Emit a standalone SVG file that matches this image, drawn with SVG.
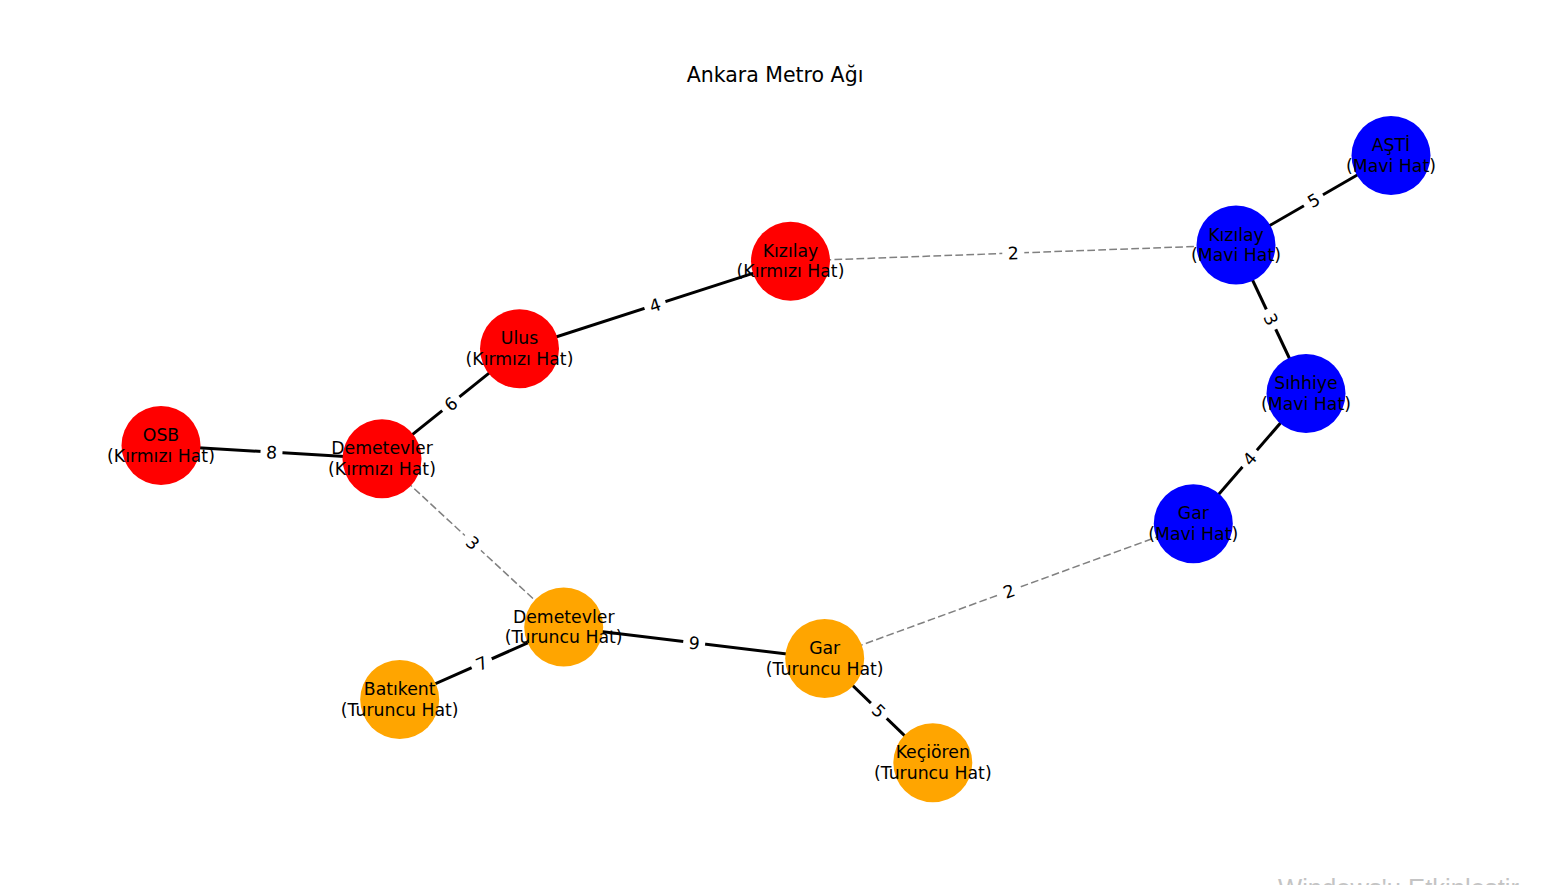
<svg xmlns="http://www.w3.org/2000/svg" width="1551" height="885" viewBox="0 0 1551 885">
<style>
.solid{stroke:#000;stroke-width:3;fill:none;stroke-linecap:butt}
.dash{stroke:#808080;stroke-width:1.5;fill:none;stroke-dasharray:7.7 3.3}
.red{fill:#ff0000}.blue{fill:#0000ff}.orange{fill:#ffa500}
.nl{font-family:"DejaVu Sans",sans-serif;font-size:17.3px;fill:#000;text-anchor:middle}
.el{font-family:"DejaVu Sans",sans-serif;font-size:17.3px;fill:#000;text-anchor:middle}
.lb{fill:#fff}
</style>
<rect width="1551" height="885" fill="#fff"/>
<text x="775" y="81.7" font-family="DejaVu Sans, sans-serif" font-size="20.5" text-anchor="middle" fill="#000">Ankara Metro Ağı</text>
<g id="edges">
<line class="solid" x1="161" y1="445.5" x2="382" y2="458.8"/>
<line class="solid" x1="382" y1="458.8" x2="519.5" y2="348.8"/>
<line class="solid" x1="519.5" y1="348.8" x2="790.5" y2="261.2"/>
<line class="dash" x1="790.5" y1="261.2" x2="1236" y2="245"/>
<line class="solid" x1="1236" y1="245" x2="1391" y2="155.5"/>
<line class="solid" x1="1236" y1="245" x2="1306" y2="393.5"/>
<line class="solid" x1="1306" y1="393.5" x2="1193.3" y2="523.7"/>
<line class="dash" x1="1193.3" y1="523.7" x2="824.7" y2="658.5"/>
<line class="dash" x1="382" y1="458.8" x2="563.7" y2="627"/>
<line class="solid" x1="563.7" y1="627" x2="399.7" y2="699.5"/>
<line class="solid" x1="563.7" y1="627" x2="824.7" y2="658.5"/>
<line class="solid" x1="824.7" y1="658.5" x2="932.8" y2="762.8"/>
<g transform="translate(271.5,452.2) rotate(3.4)"><rect class="lb" x="-11" y="-14" width="22" height="28"/><text class="el" y="6.3">8</text></g>
<g transform="translate(450.8,403.8) rotate(-38.7)"><rect class="lb" x="-11" y="-14" width="22" height="28"/><text class="el" y="6.3">6</text></g>
<g transform="translate(655,305) rotate(-17.9)"><rect class="lb" x="-11" y="-14" width="22" height="28"/><text class="el" y="6.3">4</text></g>
<g transform="translate(1013.3,253.1) rotate(-2.1)"><rect class="lb" x="-11" y="-14" width="22" height="28"/><text class="el" y="6.3">2</text></g>
<g transform="translate(1313.5,200.3) rotate(-30)"><rect class="lb" x="-11" y="-14" width="22" height="28"/><text class="el" y="6.3">5</text></g>
<g transform="translate(1271,319.3) rotate(64.8)"><rect class="lb" x="-11" y="-14" width="22" height="28"/><text class="el" y="6.3">3</text></g>
<g transform="translate(1249.7,458.6) rotate(-49.1)"><rect class="lb" x="-11" y="-14" width="22" height="28"/><text class="el" y="6.3">4</text></g>
<g transform="translate(1009,591.1) rotate(-20.1)"><rect class="lb" x="-11" y="-14" width="22" height="28"/><text class="el" y="6.3">2</text></g>
<g transform="translate(472.9,542.9) rotate(42.8)"><rect class="lb" x="-11" y="-14" width="22" height="28"/><text class="el" y="6.3">3</text></g>
<g transform="translate(481.7,663.3) rotate(-23.9)"><rect class="lb" x="-11" y="-14" width="22" height="28"/><text class="el" y="6.3">7</text></g>
<g transform="translate(694.2,642.8) rotate(6.9)"><rect class="lb" x="-11" y="-14" width="22" height="28"/><text class="el" y="6.3">9</text></g>
<g transform="translate(878.8,710.7) rotate(44)"><rect class="lb" x="-11" y="-14" width="22" height="28"/><text class="el" y="6.3">5</text></g>
</g>
<g id="n-osb"><circle class="red" cx="161" cy="445.5" r="39.5"/><text class="nl" x="161" y="441">OSB</text><text class="nl" x="161" y="461.5">(Kırmızı Hat)</text></g>
<g id="n-demetevler-k"><circle class="red" cx="382" cy="458.8" r="39.5"/><text class="nl" x="382" y="454.3">Demetevler</text><text class="nl" x="382" y="474.8">(Kırmızı Hat)</text></g>
<g id="n-ulus"><circle class="red" cx="519.5" cy="348.8" r="39.5"/><text class="nl" x="519.5" y="344.3">Ulus</text><text class="nl" x="519.5" y="364.8">(Kırmızı Hat)</text></g>
<g id="n-kizilay-k"><circle class="red" cx="790.5" cy="261.2" r="39.5"/><text class="nl" x="790.5" y="256.7">Kızılay</text><text class="nl" x="790.5" y="277.2">(Kırmızı Hat)</text></g>
<g id="n-kizilay-m"><circle class="blue" cx="1236" cy="245" r="39.5"/><text class="nl" x="1236" y="240.5">Kızılay</text><text class="nl" x="1236" y="261">(Mavi Hat)</text></g>
<g id="n-asti"><circle class="blue" cx="1391" cy="155.5" r="39.5"/><text class="nl" x="1391" y="151">AŞTİ</text><text class="nl" x="1391" y="171.5">(Mavi Hat)</text></g>
<g id="n-sihhiye"><circle class="blue" cx="1306" cy="393.5" r="39.5"/><text class="nl" x="1306" y="389">Sıhhiye</text><text class="nl" x="1306" y="409.5">(Mavi Hat)</text></g>
<g id="n-gar-m"><circle class="blue" cx="1193.3" cy="523.7" r="39.5"/><text class="nl" x="1193.3" y="519.2">Gar</text><text class="nl" x="1193.3" y="539.7">(Mavi Hat)</text></g>
<g id="n-demetevler-t"><circle class="orange" cx="563.7" cy="627" r="39.5"/><text class="nl" x="563.7" y="622.5">Demetevler</text><text class="nl" x="563.7" y="643">(Turuncu Hat)</text></g>
<g id="n-batikent"><circle class="orange" cx="399.7" cy="699.5" r="39.5"/><text class="nl" x="399.7" y="695">Batıkent</text><text class="nl" x="399.7" y="715.5">(Turuncu Hat)</text></g>
<g id="n-gar-t"><circle class="orange" cx="824.7" cy="658.5" r="39.5"/><text class="nl" x="824.7" y="654">Gar</text><text class="nl" x="824.7" y="674.5">(Turuncu Hat)</text></g>
<g id="n-kecioren"><circle class="orange" cx="932.8" cy="762.8" r="39.5"/><text class="nl" x="932.8" y="758.3">Keçiören</text><text class="nl" x="932.8" y="778.8">(Turuncu Hat)</text></g>
<text x="1278" y="896.6" font-family="Liberation Sans, sans-serif" font-size="25.6" fill="#c4c4c4">Windows'u Etkinleştir</text>
</svg>
